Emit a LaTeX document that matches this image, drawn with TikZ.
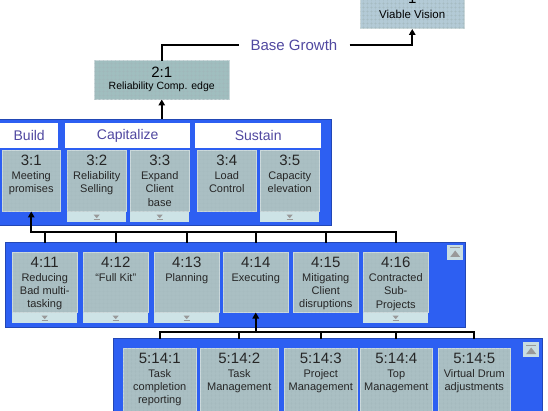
\documentclass[tikz,border=0pt]{standalone}
\usepackage{fontspec}
\setmainfont{Liberation Sans}
\usetikzlibrary{arrows.meta,positioning,patterns.meta}
\definecolor{panelblue}{HTML}{2D5FF2}
\definecolor{cellgray}{HTML}{AABFC3}
\definecolor{cellgrid}{HTML}{A0B5B9}
\definecolor{stripcyan}{HTML}{CDE3E6}
\definecolor{headtext}{HTML}{5048A0}
\definecolor{topteal}{HTML}{A0BEBF}
\definecolor{viablebox}{HTML}{B3CAD6}
\definecolor{btnface}{HTML}{C9DDE1}
\newcommand{\numfont}{\fontsize{15}{15}\selectfont}
\newcommand{\labelfont}{\fontsize{11}{13.3}\selectfont}

\begin{document}
\begin{tikzpicture}[x=1pt,y=-1pt]
\tikzset{
  conn/.style={line width=2pt,line cap=rect},
  arr/.style={line width=2pt,-{Triangle[length=6pt,width=6.5pt]}},
  panel/.style={anchor=north west,inner sep=0pt,fill=panelblue,draw=panelblue!75!black,line width=0.6pt},
  cell/.style={anchor=north west,inner sep=0pt,fill=cellgray,draw=cellgray!60!white,line width=0.5pt,
    postaction={pattern={Hatch[angle=0,distance=4pt,line width=0.3pt]},pattern color=cellgrid}},
  strip/.style={anchor=north west,inner sep=0pt,fill=stripcyan,minimum height=10pt},
  celltxt/.style={anchor=north,align=center,inner sep=0pt,text=black!85,font=\labelfont},
  head/.style={anchor=north west,inner sep=0pt,fill=white,minimum height=25pt,text=headtext,font=\fontsize{14}{14}\selectfont},
  btn/.style={anchor=north west,inner sep=0pt,fill=btnface,minimum width=16pt,minimum height=15pt},
  marker/.style={fill=black!40},
  markerline/.style={draw=black!40,line width=1pt}
}
\useasboundingbox (0,0) rectangle (548,411);

% top boxes
\node[cell,fill=viablebox,anchor=south west,minimum width=104pt,minimum height=46pt,align=center] (v1) at (360,29)
  {{\numfont 1}\\[3pt]{\fontsize{11.5}{13}\selectfont Viable Vision}};
\node[cell,fill=topteal,minimum width=135pt,minimum height=39pt,align=center] (c21) at (94,60)
  {{\numfont 2:1}\\{\fontsize{10.5}{12}\selectfont Reliability Comp. edge}};
\node[text=headtext,font=\fontsize{15}{15}\selectfont,inner xsep=12pt] (bg) at (294,45) {Base Growth};
\draw[conn] (c21.north) |- (bg.west);
\draw[arr] (bg.east) -| (v1.south);

% panels
\node[panel,minimum width=333pt,minimum height=106pt] (p3) at (-2,119) {};
\node[panel,minimum width=460pt,minimum height=85pt] (p4) at (5,242) {};
\node[panel,minimum width=429pt,minimum height=90pt] (p5) at (113,338) {};

\node[head,minimum width=58pt] (hb) at (0,123) {Build};
\node[head,minimum width=125pt] (hc) at (65,123) {Capitalize};
\node[head,minimum width=126pt] (hs) at (195,123) {Sustain};

% level 3
\foreach \id/\x/\w/\nr/\txt/\st in {31/2/58/3:1/{Meeting\\promises}/0, 32/67/59/3:2/{Reliability\\Selling}/1,
    33/130/59/3:3/{Expand\\Client\\base}/1, 34/197/59/3:4/{Load\\Control}/0, 35/260/59/3:5/{Capacity\\elevation}/1} {
  \node[cell,minimum width=\w pt,minimum height=61pt] (c\id) at (\x,150) {};
  \node[celltxt] (t\id) at ([yshift=-4.5pt]c\id.north) {{\numfont\nr}\\[1pt]\txt};
  \ifnum\st=1
    \node[strip,minimum width=\w pt] (s\id) at (c\id.south west) {};
    \fill[marker] ([xshift=-3pt,yshift=2pt]s\id.center) -- ++(6pt,0) -- ++(-3pt,-3.5pt) -- cycle;
    \draw[markerline] ([xshift=-3pt,yshift=-2.5pt]s\id.center) -- ++(6pt,0);
  \fi
}

% level 4
\foreach \id/\x/\nr/\txt/\st in {411/12/4:11/{Reducing\\Bad multi-\\tasking}/1, 412/83/4:12/{“Full Kit”}/1,
    413/154/4:13/Planning/1, 414/223/4:14/Executing/0, 415/293/4:15/{Mitigating\\Client\\disruptions}/0,
    416/363/4:16/{Contracted\\Sub-\\Projects}/1} {
  \node[cell,minimum width=65pt,minimum height=60pt] (c\id) at (\x,252) {};
  \node[celltxt] (t\id) at ([yshift=-4.5pt]c\id.north) {{\numfont\nr}\\[1pt]\txt};
  \ifnum\st=1
    \node[strip,minimum width=65pt] (s\id) at (c\id.south west) {};
    \fill[marker] ([xshift=-3pt,yshift=2pt]s\id.center) -- ++(6pt,0) -- ++(-3pt,-3.5pt) -- cycle;
    \draw[markerline] ([xshift=-3pt,yshift=-2.5pt]s\id.center) -- ++(6pt,0);
  \fi
}

% level 5
\foreach \id/\x/\w/\nr/\txt in {5141/123/73/5:14:1/{Task\\completion\\reporting}, 5142/200/78/5:14:2/{Task\\Management},
    5143/284/73/5:14:3/{Project\\Management}, 5144/360/72/5:14:4/{Top\\Management},
    5145/438/72/5:14:5/{Virtual Drum\\adjustments}} {
  \node[cell,minimum width=\w pt,minimum height=70pt] (c\id) at (\x,348) {};
  \node[celltxt] (t\id) at ([yshift=-4.5pt]c\id.north) {{\numfont\nr}\\[1pt]\txt};
}

% scroll buttons
\node[btn] (b4) at (447,245) {};
\node[btn] (b5) at (523,342) {};
\foreach \b in {b4,b5} {
  \draw[markerline] ([xshift=-5pt,yshift=-3pt]\b.north) -- ++(10pt,0);
  \fill[marker] ([xshift=-5pt,yshift=-12pt]\b.north) -- ++(10pt,0) -- ++(-5pt,6.5pt) -- cycle;
}

% connectors
\coordinate (bus34) at (0,232);
\coordinate (bus45) at (0,332);
\draw[arr] (c21.south |- p3.north) -- (c21.south);
\draw[arr] (c31.south |- bus34) -- (c31.south);
\draw[conn] (c31.south |- bus34) -- (c416.north |- bus34);
\foreach \id in {411,412,413,414,415,416}
  \draw[conn] (c\id.north |- bus34) -- (c\id.north |- p4.north);
\draw[arr] (c414.south |- bus45) -- (c414.south);
\draw[conn] (c5141.north |- bus45) -- (c5145.north |- bus45);
\foreach \id in {5141,5142,5143,5144,5145}
  \draw[conn] (c\id.north |- bus45) -- (c\id.north |- p5.north);
\end{tikzpicture}
\end{document}
